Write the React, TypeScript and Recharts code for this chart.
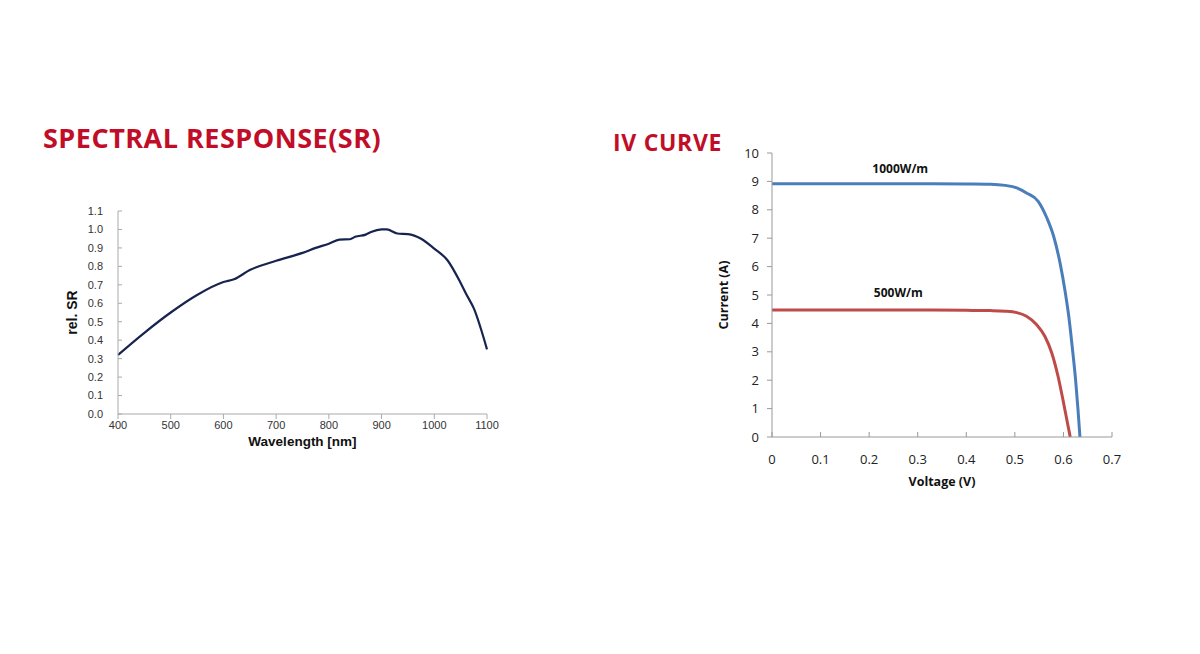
import { LineChart, Line, XAxis, YAxis, Label, ReferenceDot } from 'recharts';

// spectral response
const srWavelength = [400, 450, 500, 550, 600, 620, 650, 700, 750, 775, 800, 820, 840, 850, 870, 880, 900, 910, 930, 950, 975, 1000, 1025, 1050, 1060, 1075, 1100];
const srValues = [0.32, 0.44, 0.55, 0.645, 0.715, 0.73, 0.78, 0.83, 0.873, 0.9, 0.923, 0.945, 0.947, 0.96, 0.972, 0.986, 1.0, 1.0, 0.978, 0.975, 0.95, 0.896, 0.833, 0.71, 0.653, 0.572, 0.35];
const srXTicks = [400, 500, 600, 700, 800, 900, 1000, 1100];
const srYTicks = [0, 0.1, 0.2, 0.3, 0.4, 0.5, 0.6, 0.7, 0.8, 0.9, 1.0, 1.1];

// IV curves
const ivVoltage1000 = [0, 0.1, 0.2, 0.3, 0.4, 0.45, 0.48, 0.504, 0.524, 0.548, 0.566, 0.58, 0.593, 0.604, 0.611, 0.618, 0.625, 0.63, 0.634];
const ivCurrent1000 = [8.92, 8.92, 8.92, 8.92, 8.91, 8.9, 8.86, 8.77, 8.59, 8.3, 7.71, 7.06, 6.13, 5.07, 4.25, 3.19, 2.02, 0.96, 0];
const ivVoltage500 = [0, 0.1, 0.2, 0.3, 0.4, 0.45, 0.48, 0.504, 0.524, 0.545, 0.562, 0.576, 0.589, 0.599, 0.607, 0.614];
const ivCurrent500 = [4.47, 4.47, 4.47, 4.47, 4.46, 4.45, 4.43, 4.38, 4.25, 3.95, 3.54, 2.96, 2.13, 1.31, 0.61, 0];
const ivXTicks = [0, 0.1, 0.2, 0.3, 0.4, 0.5, 0.6, 0.7];
const ivYTicks = [0, 1, 2, 3, 4, 5, 6, 7, 8, 9, 10];
const ivLabels = [
  { text: '1000W/m', v: 0.264, i: 9.45 },
  { text: '500W/m', v: 0.26, i: 5.08 },
];

const srData = srWavelength.map((w, i) => ({ w, sr: srValues[i] }));
const iv1000 = ivVoltage1000.map((v, i) => ({ v, i: ivCurrent1000[i] }));
const iv500 = ivVoltage500.map((v, i) => ({ v, i: ivCurrent500[i] }));

const titleRed = '#c10d27';
const arial = 'Liberation Sans, Arial, sans-serif';
const calibri = 'Open Sans, Noto Sans, sans-serif';

function SpectralChart() {
  const tick = { fill: '#333', fontSize: 11, fontFamily: arial };
  return (
    <LineChart width={470} height={265} data={srData} margin={{ top: 16, right: 23, left: 18, bottom: 6 }}>
      <XAxis
        type="number"
        dataKey="w"
        domain={[400, 1100]}
        ticks={srXTicks}
        interval={0}
        stroke="#aaa"
        tickSize={5}
        tickMargin={2}
        tick={tick}
        height={40}
      >
        <Label
          value="Wavelength [nm]"
          position="insideBottom"
          offset={8}
          style={{ fontFamily: arial, fontWeight: 700, fontSize: 13.5, fill: '#111' }}
        />
      </XAxis>
      <YAxis
        type="number"
        domain={[0, 1.1]}
        ticks={srYTicks}
        interval={0}
        stroke="#aaa"
        tickSize={-4}
        tickMargin={19}
        tick={tick}
        tickFormatter={(v: number) => v.toFixed(1)}
        width={60}
      >
        <Label
          value="rel. SR"
          angle={-90}
          position="insideLeft"
          offset={14}
          style={{ fontFamily: arial, fontWeight: 700, fontSize: 14, fill: '#111', textAnchor: 'middle' }}
        />
      </YAxis>
      <Line type="monotone" dataKey="sr" stroke="#17244f" strokeWidth={2.2} dot={false} isAnimationActive={false} />
    </LineChart>
  );
}

function IvChart() {
  const tick = { fill: '#222', fontSize: 13, fontFamily: calibri };
  return (
    <LineChart width={440} height={360} margin={{ top: 18, right: 28, left: 17, bottom: 6 }}>
      <XAxis
        type="number"
        dataKey="v"
        domain={[0, 0.7]}
        ticks={ivXTicks}
        interval={0}
        stroke="#999"
        tickSize={-5}
        tickMargin={23}
        tick={tick}
        height={52}
        allowDuplicatedCategory={false}
      >
        <Label
          value="Voltage (V)"
          position="insideBottom"
          offset={3}
          style={{ fontFamily: calibri, fontWeight: 700, fontSize: 12.5, fill: '#111' }}
        />
      </XAxis>
      <YAxis
        type="number"
        dataKey="i"
        domain={[0, 10]}
        ticks={ivYTicks}
        interval={0}
        stroke="#999"
        tickSize={5}
        tickMargin={8}
        tick={tick}
        width={55}
      >
        <Label
          value="Current (A)"
          angle={-90}
          position="insideLeft"
          offset={7}
          style={{ fontFamily: calibri, fontWeight: 700, fontSize: 12.5, fill: '#111', textAnchor: 'middle' }}
        />
      </YAxis>
      <Line data={iv1000} type="monotone" dataKey="i" stroke="#4a7ebb" strokeWidth={3} dot={false} isAnimationActive={false} />
      <Line data={iv500} type="monotone" dataKey="i" stroke="#be4b48" strokeWidth={3} dot={false} isAnimationActive={false} />
      {ivLabels.map((l) => (
        <ReferenceDot
          key={l.text}
          x={l.v}
          y={l.i}
          r={0}
          shape={(p: any) => (
            <text
              x={p.cx}
              y={p.cy}
              textAnchor="middle"
              dominantBaseline="central"
              style={{ fontFamily: calibri, fontWeight: 700, fontSize: 12, fill: '#111' }}
            >
              {l.text}
            </text>
          )}
        />
      ))}
    </LineChart>
  );
}

const titleStyle = {
  position: 'absolute' as const,
  color: titleRed,
  fontFamily: calibri,
  fontWeight: 700,
  whiteSpace: 'nowrap' as const,
};

export default function App() {
  return (
    <div style={{ position: 'absolute', left: 0, top: 0, width: 1200, height: 654, background: '#fff', overflow: 'hidden' }}>
      <div style={{ ...titleStyle, left: 43, top: 119, fontSize: 27, letterSpacing: 0.5 }}>SPECTRAL RESPONSE(SR)</div>
      <div style={{ ...titleStyle, left: 613, top: 126, fontSize: 23, letterSpacing: 0.7 }}>IV CURVE</div>
      <div style={{ position: 'absolute', left: 40, top: 195 }}>
        <SpectralChart />
      </div>
      <div style={{ position: 'absolute', left: 700, top: 135 }}>
        <IvChart />
      </div>
    </div>
  );
}
